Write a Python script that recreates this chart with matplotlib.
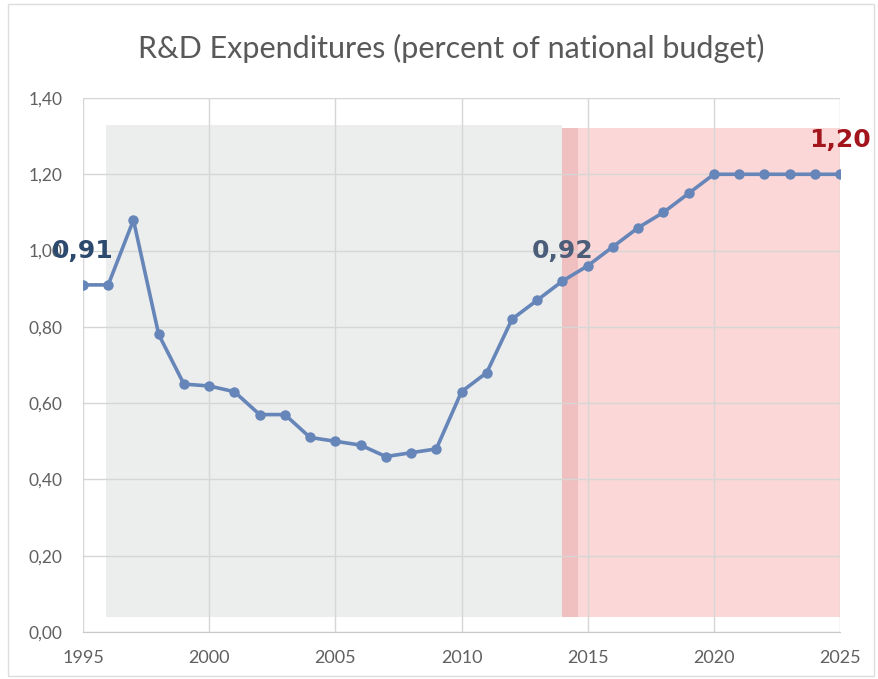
import matplotlib.pyplot as plt
from matplotlib.patches import Rectangle
from matplotlib.ticker import FuncFormatter

years = list(range(1995, 2026))
share = [0.91, 0.91, 1.08, 0.78, 0.65, 0.645, 0.63, 0.57, 0.57, 0.51,
         0.50, 0.49, 0.46, 0.47, 0.48, 0.63, 0.68, 0.82, 0.87, 0.92,
         0.96, 1.01, 1.06, 1.10, 1.15, 1.20, 1.20, 1.20, 1.20, 1.20, 1.20]

# historical and target periods
past_span = (1995.9, 2014.0)
plan_span = (2014.0, 2025.0)
band_y = (0.04, 1.33)

fig = plt.figure(figsize=(8.79, 6.79), dpi=100)
ax = fig.add_axes([0.0944, 0.0692, 0.8613, 0.7865])

ax.add_patch(Rectangle((past_span[0], band_y[0]), past_span[1] - past_span[0],
                       band_y[1] - band_y[0], color="#eceded", zorder=0.5, lw=0))
ax.add_patch(Rectangle((plan_span[0], band_y[0]), plan_span[1] - plan_span[0],
                       band_y[1] - band_y[0] - 0.01, color="#fbd7d7", zorder=0.5, lw=0))
ax.add_patch(Rectangle((plan_span[0], band_y[0]), 0.6,
                       band_y[1] - band_y[0] - 0.01, color="#f0c0c0", zorder=0.6, lw=0))

ax.plot(years, share, color="#6685b8", lw=2.6, marker="o", ms=7.5,
        markeredgewidth=0, zorder=3)

ax.set_xlim(1995, 2025)
ax.set_ylim(0, 1.40)
ax.set_xticks(range(1995, 2026, 5))
ax.set_yticks([0, 0.2, 0.4, 0.6, 0.8, 1.0, 1.2, 1.4])
ax.yaxis.set_major_formatter(FuncFormatter(lambda v, p: f"{v:.2f}".replace(".", ",")))
ax.grid(True, color="#d6d6d6", lw=1.0, zorder=1)
ax.set_axisbelow(False)
for s in ("top", "right", "left"):
    ax.spines[s].set_visible(False)
ax.spines["bottom"].set_color("#c8c8c8")
ax.tick_params(length=0, colors="#606060")
ax.tick_params(axis="x", labelsize=13, pad=13)
ax.tick_params(axis="y", labelsize=12.5, pad=15)
for lab in ax.get_xticklabels() + ax.get_yticklabels():
    lab.set_family("Lato")

ax.text(1995.0, 1.0, "0,91", fontsize=18, fontweight="bold", color="#2c4a6e",
        family="DejaVu Sans", ha="center", va="center", zorder=5, clip_on=False)
ax.text(2014.0, 1.0, "0,92", fontsize=18, fontweight="bold", color="#4b5d78",
        family="DejaVu Sans", ha="center", va="center", zorder=5)
ax.text(2025.0, 1.29, "1,20", fontsize=18, fontweight="bold", color="#a3151c",
        family="DejaVu Sans", ha="center", va="center", zorder=5, clip_on=False)

fig.text(0.513, 0.929, "R&D Expenditures (percent of national budget)",
         fontsize=22, color="#595959", family="Lato", ha="center", va="center")

fig.patches.append(Rectangle((0.009, 0.004), 0.985, 0.99, transform=fig.transFigure,
                             fill=False, ec="#dddddd", lw=1))

fig.savefig("out.png", dpi=100)
